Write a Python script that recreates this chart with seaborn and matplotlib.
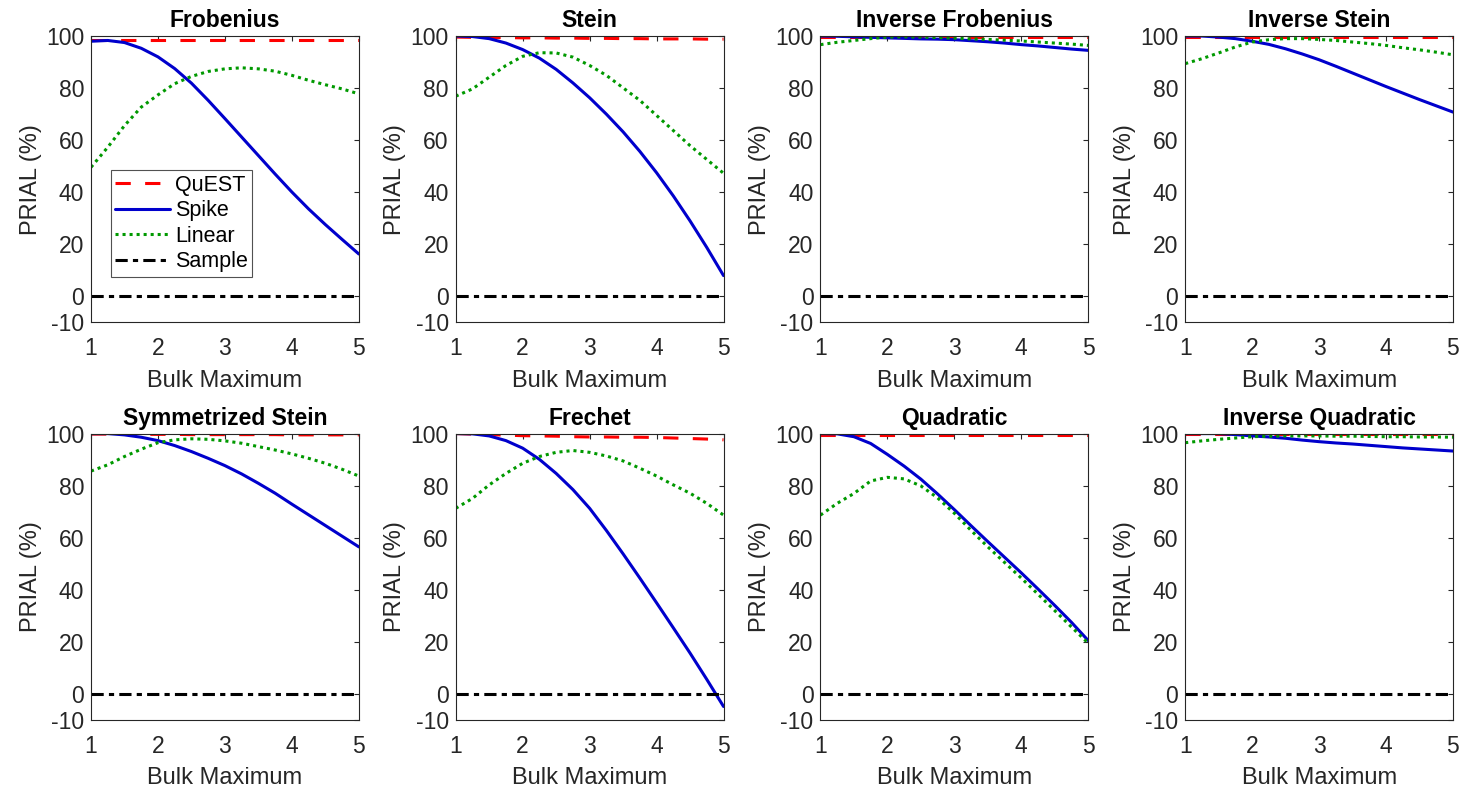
import numpy as np
import pandas as pd
import matplotlib
matplotlib.use("Agg")
import matplotlib.pyplot as plt
import seaborn as sns

# Bulk maximum grid (x axis)
bulk_max = [1.0, 1.25, 1.5, 1.75, 2.0, 2.25, 2.5, 2.75, 3.0, 3.25, 3.5, 3.75, 4.0, 4.25, 4.5, 4.75, 5.0]

loss_names = ["Frobenius", "Stein", "Inverse Frobenius", "Inverse Stein",
              "Symmetrized Stein", "Frechet", "Quadratic", "Inverse Quadratic"]
method_names = ["QuEST", "Spike", "Linear", "Sample"]

# PRIAL (%) per loss function
quest_frobenius = [98.3] * 17
spike_frobenius = [98.0, 98.3, 97.5, 95.3, 92.0, 87.5, 81.9, 75.3, 68.3, 61.2, 54.1, 47.0, 40.1, 33.6, 27.6, 21.9, 16.3]
linear_frobenius = [49.6, 57.3, 65.6, 72.7, 77.4, 81.7, 84.5, 86.4, 87.4, 87.8, 87.4, 86.5, 84.9, 83.0, 81.3, 79.7, 77.8]

quest_stein = [99.6, 99.5, 99.4, 99.4, 99.3, 99.3, 99.2, 99.2, 99.1, 99.1, 99.0, 99.0, 98.9, 98.9, 98.9, 98.8, 98.8]
spike_stein = [100.0, 99.8, 99.0, 97.3, 94.8, 91.5, 87.2, 82.0, 76.3, 70.0, 63.2, 55.7, 47.5, 38.6, 29.0, 18.8, 8.0]
linear_stein = [76.9, 79.7, 84.2, 88.7, 92.2, 93.6, 93.5, 91.9, 88.7, 84.9, 80.1, 75.3, 69.5, 63.7, 57.9, 52.6, 47.3]

quest_inv_frobenius = [99.8] * 17
spike_inv_frobenius = [100.0, 99.9, 99.7, 99.5, 99.3, 99.1, 98.9, 98.8, 98.6, 98.2, 97.8, 97.3, 96.7, 96.2, 95.6, 95.0, 94.5]
linear_inv_frobenius = [96.7, 97.6, 98.3, 99.0, 99.6, 99.7, 99.6, 99.4, 99.2, 98.9, 98.7, 98.4, 98.1, 97.7, 97.3, 96.9, 96.4]

quest_inv_stein = [99.6] * 17
spike_inv_stein = [100.0, 100.0, 99.6, 99.0, 98.0, 96.8, 95.1, 93.1, 90.9, 88.4, 85.8, 83.2, 80.6, 78.1, 75.6, 73.2, 70.8]
linear_inv_stein = [89.4, 91.3, 93.5, 95.8, 97.7, 98.6, 99.0, 99.0, 98.7, 98.3, 97.7, 97.1, 96.4, 95.5, 94.7, 93.8, 92.8]

quest_sym_stein = [99.8, 99.8, 99.7, 99.7, 99.7, 99.7, 99.6, 99.6, 99.6, 99.6, 99.6, 99.6, 99.5, 99.5, 99.5, 99.5, 99.5]
spike_sym_stein = [100.0, 100.0, 99.5, 98.6, 97.3, 95.4, 93.1, 90.5, 87.7, 84.5, 80.9, 77.1, 72.9, 68.8, 64.7, 60.6, 56.5]
linear_sym_stein = [85.6, 88.0, 91.2, 94.0, 96.5, 97.6, 98.0, 97.8, 97.2, 96.3, 95.0, 93.7, 92.2, 90.5, 88.6, 86.3, 83.7]

quest_frechet = [100.0, 99.8, 99.6, 99.4, 99.2, 99.1, 99.0, 98.8, 98.7, 98.7, 98.6, 98.6, 98.5, 98.3, 98.1, 97.9, 97.6]
spike_frechet = [100.0, 99.9, 99.1, 97.3, 94.4, 90.1, 84.7, 78.5, 71.3, 62.8, 53.8, 44.5, 35.0, 25.4, 15.7, 5.6, -4.8]
linear_frechet = [71.3, 75.1, 80.3, 84.7, 88.6, 91.2, 92.8, 93.5, 92.8, 91.4, 89.5, 86.7, 83.7, 80.3, 77.1, 73.2, 68.7]

quest_quadratic = [99.6] * 17
spike_quadratic = [100.0, 99.9, 98.8, 96.2, 92.0, 87.5, 82.5, 76.8, 70.8, 64.6, 58.5, 52.5, 46.5, 40.3, 34.0, 27.5, 20.5]
linear_quadratic = [68.7, 73.2, 77.0, 81.8, 83.2, 82.6, 79.9, 75.3, 69.4, 62.8, 56.5, 50.5, 44.5, 38.3, 32.0, 25.7, 19.5]

quest_inv_quadratic = [100.0] * 17
spike_inv_quadratic = [100.0, 100.0, 100.0, 99.6, 99.1, 98.7, 98.2, 97.5, 96.9, 96.4, 96.0, 95.5, 95.0, 94.5, 94.1, 93.7, 93.3]
linear_inv_quadratic = [96.5, 97.2, 97.8, 98.3, 98.8, 99.0, 99.1, 99.1, 99.1, 99.0, 99.0, 98.9, 98.8, 98.8, 98.7, 98.7, 98.6]

sample_prial = [0.0] * 17

quest_all = [quest_frobenius, quest_stein, quest_inv_frobenius, quest_inv_stein,
             quest_sym_stein, quest_frechet, quest_quadratic, quest_inv_quadratic]
spike_all = [spike_frobenius, spike_stein, spike_inv_frobenius, spike_inv_stein,
             spike_sym_stein, spike_frechet, spike_quadratic, spike_inv_quadratic]
linear_all = [linear_frobenius, linear_stein, linear_inv_frobenius, linear_inv_stein,
              linear_sym_stein, linear_frechet, linear_quadratic, linear_inv_quadratic]

# Long-form table for seaborn
rows = []
for name, q, s, l in zip(loss_names, quest_all, spike_all, linear_all):
    for method, vals in zip(method_names, [q, s, l, sample_prial]):
        for xv, yv in zip(bulk_max, vals):
            rows.append({"loss": name, "method": method, "bulk": xv, "prial": yv})
df = pd.DataFrame(rows)

sns.set_style("white")
plt.rcParams["font.family"] = ["Liberation Sans", "DejaVu Sans"]
plt.rcParams["axes.linewidth"] = 0.8

axis_grey = (0.15, 0.15, 0.15)
lw = 2.2
styles = {
    "QuEST": dict(color=(1.0, 0.0, 0.0), linestyle=(0, (5.0, 4.7))),
    "Spike": dict(color=(0.0, 0.0, 0.8), linestyle="-"),
    "Linear": dict(color=(0.0, 0.6, 0.0), linestyle=(0, (1.0, 1.3))),
    "Sample": dict(color=(0.0, 0.0, 0.0), linestyle=(0, (4.0, 1.7, 1.7, 1.7))),
}

fig, axes = plt.subplots(2, 4, figsize=(14.61, 7.92), dpi=100)
fig.subplots_adjust(left=0.0623, right=0.9945, bottom=0.0909, top=0.9545,
                    wspace=0.362, hspace=0.388)

for ax, name in zip(axes.flat, loss_names):
    sub = df[df["loss"] == name]
    for method in method_names:
        m = sub[sub["method"] == method]
        sns.lineplot(data=m, x="bulk", y="prial", ax=ax, estimator=None,
                     linewidth=lw, label=method, legend=False,
                     dash_capstyle="butt", solid_capstyle="round",
                     solid_joinstyle="round", **styles[method])
    ax.set_xlim(1, 5)
    ax.set_ylim(-10, 100)
    ax.set_xticks([1, 2, 3, 4, 5])
    ax.set_xticklabels(["1", "2", "3", "4", "5"])
    ax.set_yticks([-10, 0, 20, 40, 60, 80, 100])
    ax.set_yticklabels(["-10", "0", "20", "40", "60", "80", "100"])
    ax.tick_params(direction="in", length=3.5, width=0.8, top=True, right=True,
                   labelsize=16.5, colors=axis_grey)
    ax.tick_params(axis="x", pad=10.5)
    ax.tick_params(axis="y", pad=5)
    for sp in ax.spines.values():
        sp.set_visible(True)
        sp.set_color(axis_grey)
        sp.set_linewidth(0.8)
    ax.set_xlabel("Bulk Maximum", fontsize=17, color=axis_grey, labelpad=7)
    ax.set_ylabel("PRIAL (%)", fontsize=17, color=axis_grey, labelpad=3)
    ax.set_title(name, fontsize=16.5, fontweight="bold", color="black", pad=6.5)

leg = axes[0, 0].legend(loc="upper left", bbox_to_anchor=(0.0746, 0.531),
                        fontsize=15.5, frameon=True, fancybox=False,
                        handlelength=2.55, handletextpad=0.23, borderpad=0.2,
                        labelspacing=0.21, borderaxespad=0.0)
leg.get_frame().set_edgecolor(axis_grey)
leg.get_frame().set_linewidth(0.8)
for t in leg.get_texts():
    t.set_color("black")

fig.savefig("out.png", dpi=100, facecolor="white")
